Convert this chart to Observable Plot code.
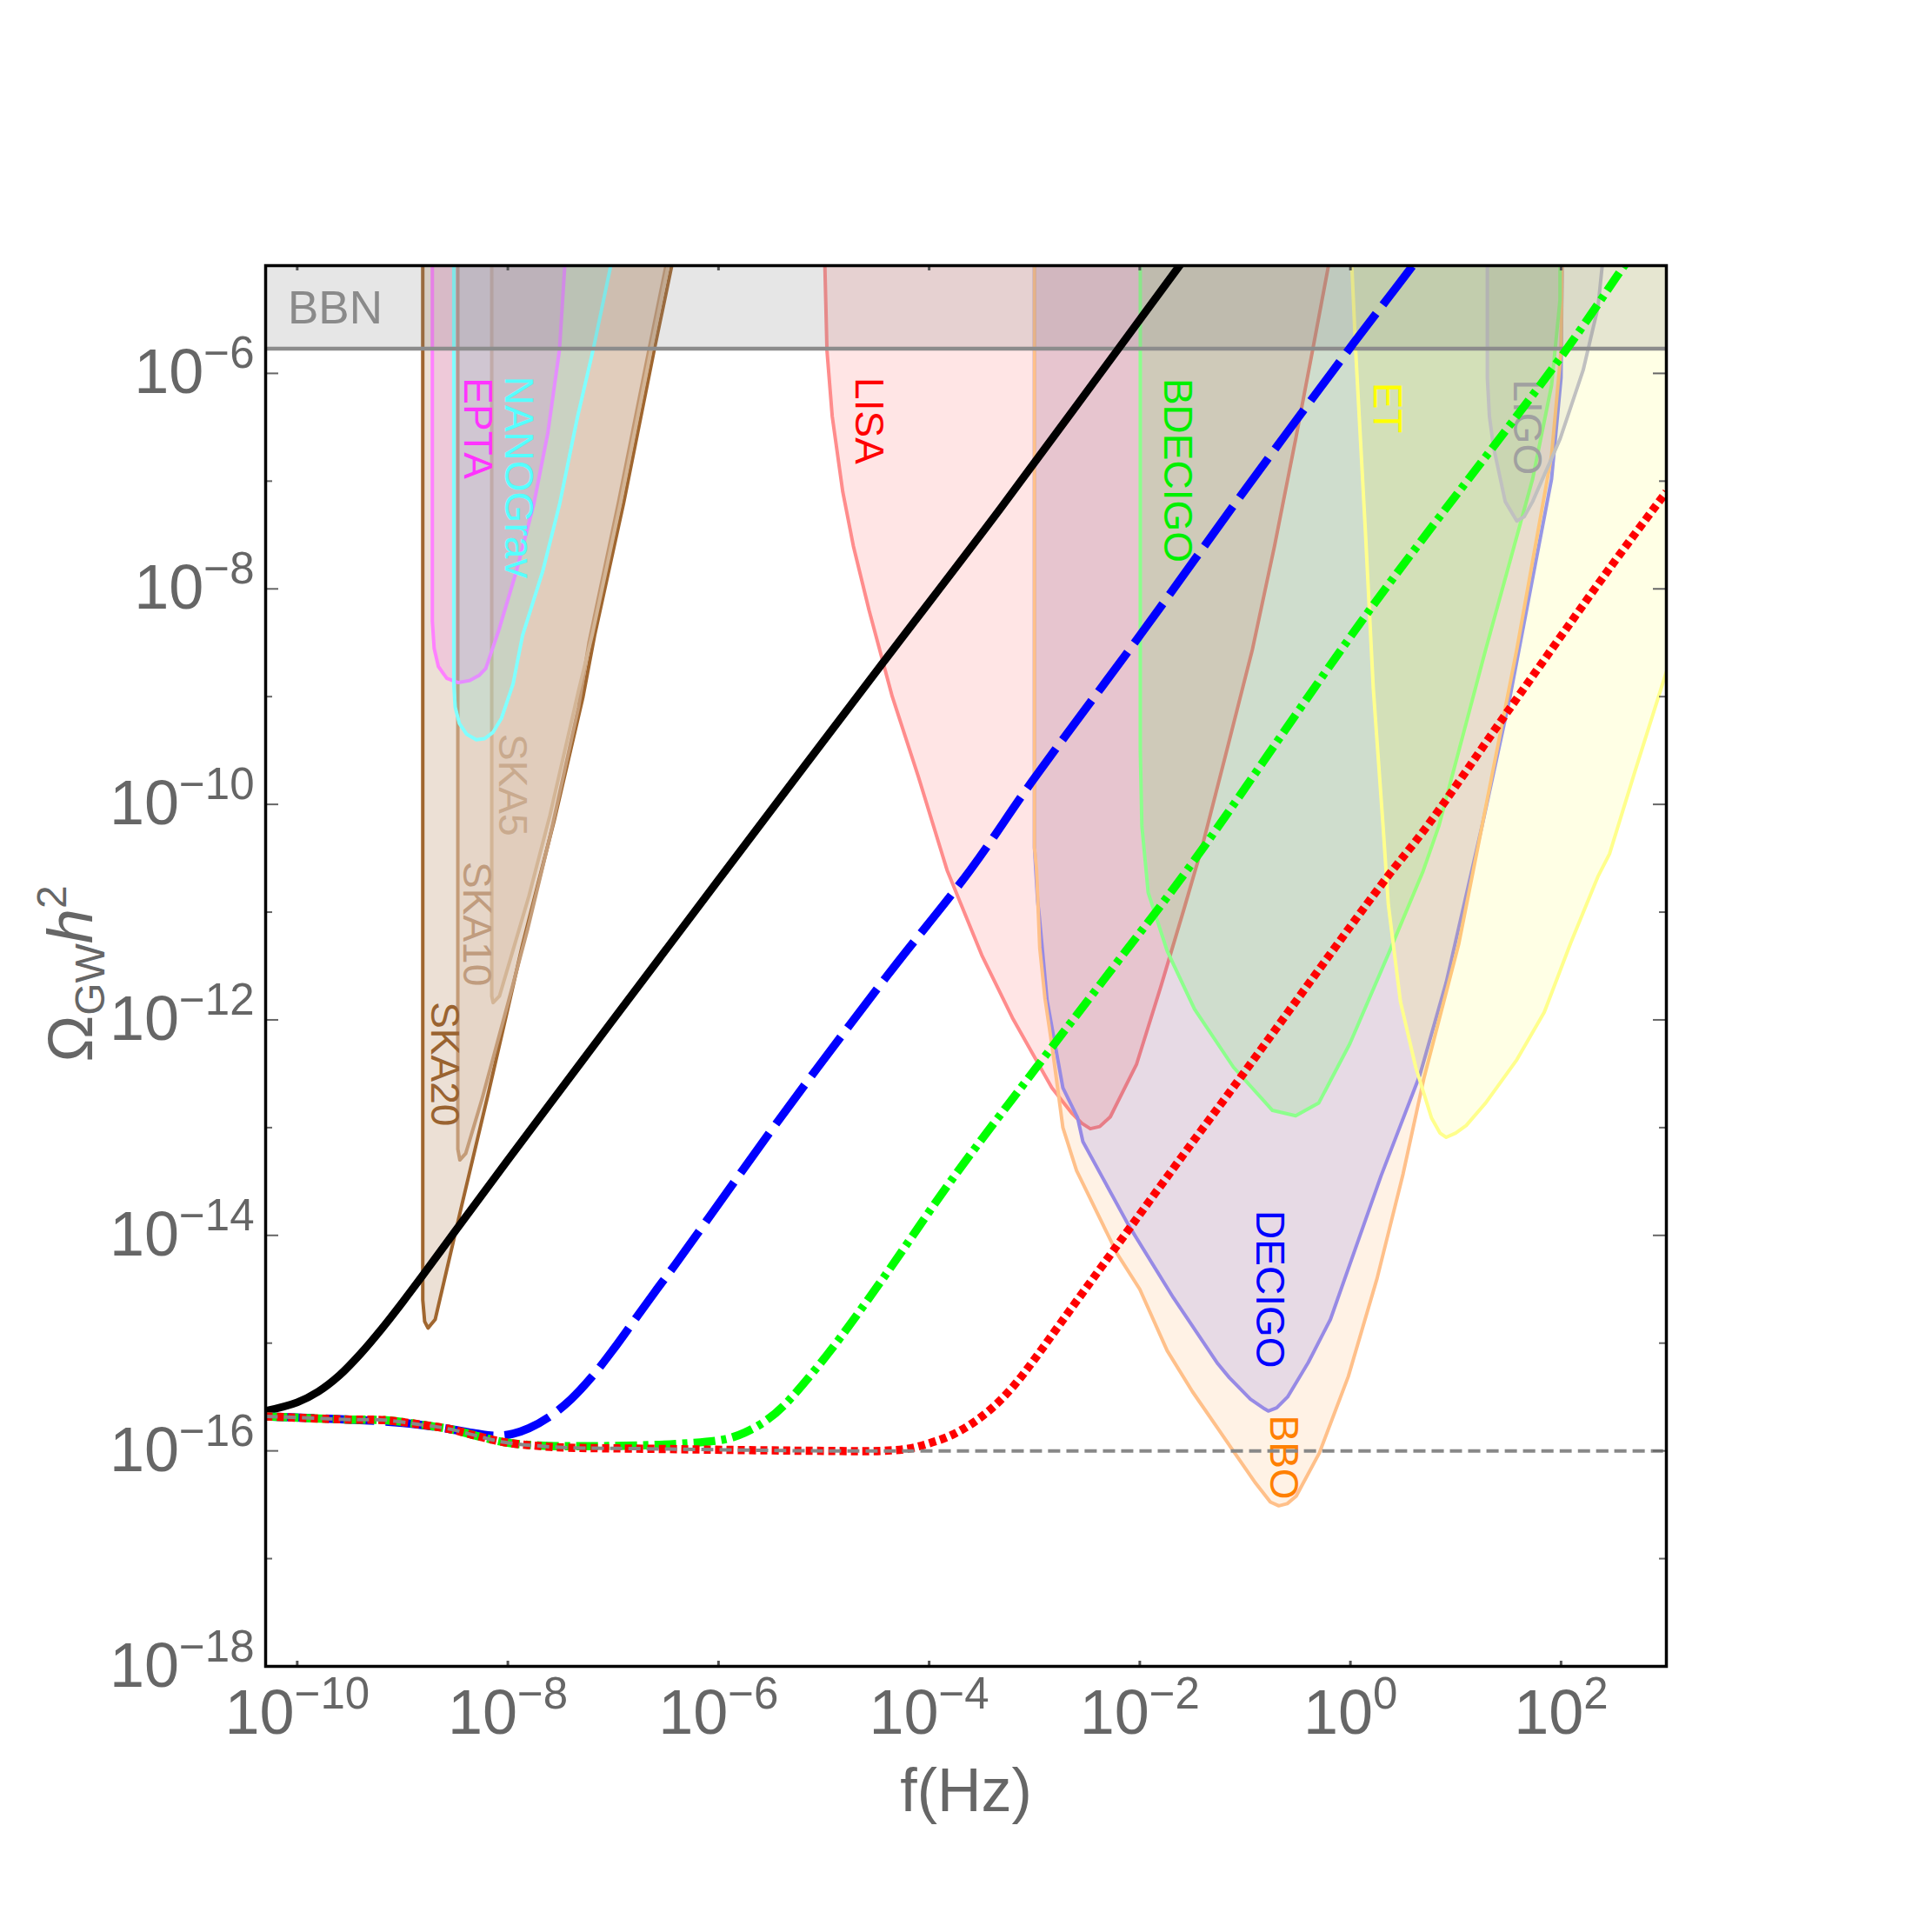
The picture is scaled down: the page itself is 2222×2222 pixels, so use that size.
<!DOCTYPE html>
<html><head><meta charset="utf-8">
<script src="https://cdn.jsdelivr.net/npm/d3@7"></script>
<script src="https://cdn.jsdelivr.net/npm/@observablehq/plot@0.6"></script>
<style>
body{margin:0;background:#fff;}
</style></head><body><div id="chart"></div>
<script>
const xTickExp = [-10, -8, -6, -4, -2, 0, 2];
const yMajorExp = [-18, -16, -14, -12, -10, -8, -6];
const yMinorExp = [-17, -15, -13, -11, -9, -7];
const xDomainExp = [-10.3, 3];
const yDomainExp = [-18, -5];
const bbnExp = -5.77;

// curves
const baselineCurve = [[-10.3,-15.68],[-10,-15.69],[-9.5,-15.71],[-9.17,-15.715],[-8.8,-15.76],[-8.54,-15.8],[-8.3,-15.86],[-8.03,-15.92],[-7.7,-15.955],[-7.43,-15.97],[-6.7,-15.98],[-5.96,-15.99],[-5,-16.0],[-3,-16.0],[0,-16.0],[3,-16.0]];
const blackCurve = [[-10.3,-15.63],[-10.0,-15.55],[-9.8,-15.45],[-9.6,-15.3],[-9.4,-15.1],[-9.2,-14.87],[-9.0,-14.62],[-8.8,-14.36],[-8.5,-13.96],[-8.0,-13.3],[-7.04,-12.05],[-5.93,-10.61],[-4.45,-8.7],[-3.32,-7.25],[-1.63,-5.01],[-1.3,-4.58]];
const blueCurve = [[-10.3,-15.68],[-9.5,-15.71],[-9.0,-15.74],[-8.6,-15.79],[-8.3,-15.84],[-8.1,-15.86],[-7.95,-15.84],[-7.8,-15.79],[-7.6,-15.68],[-7.4,-15.52],[-7.2,-15.31],[-7.0,-15.06],[-6.8,-14.79],[-6.6,-14.52],[-6.41,-14.27],[-5.42,-12.92],[-4.39,-11.58],[-3.61,-10.61],[-3.025,-9.79],[-1.99,-8.42],[-1.0,-7.08],[0.03,-5.72],[0.584,-5.01],[1.0,-4.45]];
const greenCurve = [[-10.3,-15.68],[-9.5,-15.71],[-9.17,-15.715],[-8.8,-15.76],[-8.54,-15.8],[-8.3,-15.86],[-8.03,-15.92],[-7.7,-15.95],[-7.04,-15.955],[-6.3,-15.93],[-5.93,-15.89],[-5.75,-15.83],[-5.55,-15.72],[-5.38,-15.58],[-4.97,-15.11],[-4.46,-14.43],[-3.79,-13.49],[-2.98,-12.44],[-2.25,-11.51],[-1.55,-10.61],[0.18,-8.2],[2.02,-5.82],[2.6,-5.0],[3,-4.45]];
const redCurve = [[-10.3,-15.68],[-9.5,-15.71],[-9.17,-15.715],[-8.8,-15.76],[-8.54,-15.8],[-8.3,-15.86],[-8.03,-15.92],[-7.7,-15.955],[-7.43,-15.97],[-6.7,-15.98],[-5.96,-15.99],[-5,-16.0],[-4.46,-16.0],[-4.2,-15.98],[-4.0,-15.93],[-3.8,-15.86],[-3.6,-15.75],[-3.4,-15.6],[-3.2,-15.4],[-3.0,-15.15],[-2.8,-14.88],[-2.6,-14.61],[-2.25,-14.14],[-1.51,-13.15],[-1.04,-12.53],[0.29,-10.75],[0.73,-10.2],[1.47,-9.17],[2.46,-7.81],[3,-7.1]];

// sensitivity regions
const ska20 = [[-8.808,-4.8],[-8.808,-14.6],[-8.79,-14.8],[-8.758,-14.86],[-8.69,-14.78],[-8.44,-13.73],[-8.19,-12.7],[-7.86,-11.3],[-7.56,-10.15],[-7.286,-9.0],[-7.176,-8.43],[-6.9,-7.2],[-6.61,-5.78],[-6.446,-5.01],[-6.42,-4.8]];
const ska10 = [[-8.475,-4.8],[-8.475,-13.2],[-8.456,-13.3],[-8.4,-13.24],[-8.25,-12.75],[-8.0,-11.85],[-7.81,-11.15],[-7.6,-10.3],[-7.33,-9.1],[-7.23,-8.5],[-6.95,-7.2],[-6.66,-5.78],[-6.5,-5.01],[-6.47,-4.8]];
const ska5 = [[-8.153,-4.8],[-8.153,-11.78],[-8.14,-11.84],[-8.08,-11.78],[-7.95,-11.35],[-7.8,-10.85],[-7.6,-10.1],[-7.33,-8.95],[-7.2,-8.43],[-6.93,-7.2],[-6.64,-5.78],[-6.48,-5.01],[-6.45,-4.8]];
const epta = [[-8.717,-4.8],[-8.717,-8.3],[-8.7,-8.55],[-8.66,-8.72],[-8.58,-8.83],[-8.47,-8.87],[-8.36,-8.85],[-8.27,-8.8],[-8.21,-8.74],[-8.085,-8.38],[-7.92,-7.84],[-7.755,-7.22],[-7.62,-6.55],[-7.51,-5.78],[-7.46,-5.01],[-7.455,-4.8]];
const nanograv = [[-8.513,-4.8],[-8.513,-8.9],[-8.5,-9.1],[-8.46,-9.25],[-8.39,-9.35],[-8.3,-9.4],[-8.22,-9.39],[-8.14,-9.33],[-8.06,-9.2],[-7.95,-8.88],[-7.86,-8.43],[-7.67,-7.84],[-7.51,-7.22],[-7.34,-6.41],[-7.19,-5.78],[-7.025,-5.01],[-7.0,-4.8]];
const lisa = [[-4.99,-4.8],[-4.99,-5.0],[-4.97,-5.79],[-4.92,-6.4],[-4.82,-7.1],[-4.72,-7.6],[-4.57,-8.2],[-4.35,-9.0],[-4.1,-9.75],[-3.83,-10.61],[-3.5,-11.4],[-3.21,-11.98],[-2.835,-12.63],[-2.65,-12.86],[-2.55,-12.96],[-2.47,-13.01],[-2.38,-12.99],[-2.28,-12.9],[-2.03,-12.41],[-1.8,-11.69],[-1.58,-10.97],[-1.41,-10.4],[-1.2,-9.6],[-0.93,-8.56],[-0.72,-7.6],[-0.52,-6.61],[-0.36,-5.79],[-0.21,-5.01],[-0.19,-4.8]];
const bbo = [[-3.0,-4.8],[-3.0,-10.4],[-2.98,-10.61],[-2.95,-11.33],[-2.9,-11.8],[-2.835,-12.23],[-2.73,-13.0],[-2.6,-13.4],[-2.5,-13.6],[-2.215,-14.17],[-2.0,-14.5],[-1.74,-15.07],[-1.5,-15.45],[-1.26,-15.79],[-1.12,-15.99],[-0.9,-16.3],[-0.76,-16.475],[-0.68,-16.51],[-0.6,-16.49],[-0.515,-16.42],[-0.295,-16.02],[-0.02,-15.31],[0.253,-14.4],[0.5,-13.43],[0.696,-12.55],[1.03,-11.29],[1.25,-10.2],[1.58,-8.56],[1.91,-6.76],[2.0,-5.79],[2.01,-5.01],[2.01,-4.8]];
const decigo = [[-3.0,-4.8],[-3.0,-10.4],[-2.97,-10.9],[-2.954,-11.04],[-2.88,-11.82],[-2.73,-12.63],[-2.59,-12.91],[-2.54,-13.13],[-2.11,-13.9],[-1.68,-14.58],[-1.26,-15.19],[-1.15,-15.32],[-0.95,-15.52],[-0.815,-15.61],[-0.78,-15.63],[-0.7,-15.6],[-0.597,-15.5],[-0.4,-15.18],[-0.19,-14.78],[0.29,-13.45],[0.66,-12.51],[0.91,-11.65],[1.25,-10.2],[1.51,-9.03],[1.75,-7.8],[1.91,-6.98],[2.0,-6.04],[2.01,-5.01],[2.01,-4.8]];
const bdecigo = [[-1.995,-4.8],[-1.995,-9.5],[-1.98,-10.2],[-1.92,-10.82],[-1.74,-11.36],[-1.48,-11.9],[-1.11,-12.44],[-0.74,-12.84],[-0.52,-12.89],[-0.3,-12.77],[-0.005,-12.22],[0.36,-11.39],[0.69,-10.62],[0.84,-10.2],[1.285,-8.56],[1.73,-6.98],[1.91,-6.11],[1.99,-5.32],[1.99,-4.8]];
const et = [[0.0,-4.8],[0.014,-5.01],[0.05,-5.79],[0.143,-7.48],[0.217,-8.92],[0.31,-10.2],[0.36,-10.93],[0.475,-11.83],[0.62,-12.44],[0.77,-12.91],[0.85,-13.05],[0.91,-13.09],[1.0,-13.05],[1.1,-12.98],[1.285,-12.77],[1.58,-12.37],[1.84,-11.93],[2.09,-11.29],[2.35,-10.67],[2.46,-10.46],[2.7,-9.7],[3.0,-8.77],[3.3,-8.0],[3.3,-4.8]];
const ligo = [[1.3,-4.8],[1.3,-6.04],[1.32,-6.4],[1.36,-6.69],[1.47,-7.19],[1.58,-7.37],[1.65,-7.33],[1.73,-7.19],[1.99,-6.61],[2.21,-5.97],[2.35,-5.39],[2.39,-5.01],[2.4,-4.8]];

// text labels
const labelNames = ["EPTA", "NANOGrav", "SKA5", "SKA10", "SKA20", "LISA", "BDECIGO", "ET", "LIGO", "DECIGO", "BBO"];
const labelLogF  = [-8.293, -7.905, -7.96, -8.297, -8.607, -4.577, -1.646, 0.344, 1.67, -0.77, -0.64];
const labelLogO  = [-6.51, -6.965, -9.82, -11.11, -12.41, -6.44, -6.9, -6.32, -6.5, -14.5, -16.06];
const bbnLabel = {name: "BBN", lf: -9.64, lo: -5.40};

// ---------- styles (kept apart from the data) ----------
const labelColor = {EPTA:"#ff33ff", NANOGrav:"#55ffff", SKA5:"#c9aa8e", SKA10:"#c09c7e", SKA20:"#9a6330",
  LISA:"#ff0000", BDECIGO:"#00f000", ET:"#ffff00", LIGO:"#a0a0a0", DECIGO:"#0000ff", BBO:"#ff8000"};
const W = 2222, H = 2222, ML = 305, MR = 306, MT = 305, MB = 306;
const PW = W - ML - MR, PH = H - MT - MB;
const FONT = "Liberation Sans, Arial, Helvetica, sans-serif";

const P = a => a.map(([lf, lo]) => ({f: 10 ** lf, o: 10 ** lo}));
const region = (pts, stroke, fill, fillOpacity) =>
  Plot.line(P(pts), {x: "f", y: "o", stroke, strokeWidth: 4, fill, fillOpacity, clip: true, strokeLinejoin: "round"});
const curve = (pts, opts) => Plot.line(P(pts), {x: "f", y: "o", clip: true, curve: "catmull-rom", strokeLinecap: "butt", ...opts});

const labelTable = labelNames.map((n, i) => ({name: n, f: 10 ** labelLogF[i], o: 10 ** labelLogO[i]}));
const fmt = d => `10^${Math.round(Math.log10(d))}`;

const chart = Plot.plot({
  width: W, height: H,
  marginLeft: ML, marginRight: MR, marginTop: MT, marginBottom: MB,
  style: {fontFamily: FONT, color: "#666", background: "#fff"},
  x: {type: "log", domain: xDomainExp.map(e => 10 ** e)},
  y: {type: "log", domain: yDomainExp.map(e => 10 ** e)},
  marks: [
    region(ska20, "#a0662f", "#a0642e", 0.2),
    region(ska10, "#c49c78", "#a0642e", 0.08),
    region(ska5, "#d3b596", "#a0642e", 0.08),
    region(epta, "#ff80ff", "#ff00ff", 0.1),
    region(nanograv, "#80ffff", "#00ffff", 0.1),
    region(lisa, "#ff8c8c", "#ff0000", 0.1),
    region(decigo, "#8c8cff", "#0000ff", 0.1),
    region(bbo, "#ffc08a", "#ff8000", 0.1),
    region(bdecigo, "#8cff8c", "#00ff00", 0.1),
    region(et, "#ffff8c", "#ffff00", 0.1),
    region(ligo, "#c0c0c0", "#808080", 0.1),
    ...labelTable.map(d => Plot.text([d], {x: "f", y: "o", text: "name", rotate: 90, fontSize: 46, fill: labelColor[d.name]})),
    Plot.rect([bbnExp], {x1: 10 ** xDomainExp[0], x2: 10 ** xDomainExp[1], y1: d => 10 ** d, y2: 10 ** yDomainExp[1], fill: "#808080", fillOpacity: 0.2}),
    Plot.ruleY([bbnExp], {y: d => 10 ** d, stroke: "#8c8c8c", strokeWidth: 4.5}),
    Plot.text([bbnLabel], {x: d => 10 ** d.lf, y: d => 10 ** d.lo, text: "name", fontSize: 53, fill: "#8a8a8a"}),
    curve(blackCurve, {stroke: "#000", strokeWidth: 9}),
    curve(blueCurve, {stroke: "#0000ff", strokeWidth: 9.5, strokeDasharray: "56,13"}),
    curve(greenCurve, {stroke: "#00ff00", strokeWidth: 9.5, strokeDasharray: "25,7,6,7"}),
    curve(redCurve, {stroke: "#ff0000", strokeWidth: 9.5, strokeDasharray: "8,5"}),
    curve(baselineCurve, {stroke: "#888", strokeWidth: 4, strokeDasharray: "14,7"}),
    Plot.tickX(xTickExp, {x: d => 10 ** d, insetTop: PH - 6, stroke: "#555", strokeWidth: 3}),
    Plot.tickX(xTickExp, {x: d => 10 ** d, insetBottom: PH - 6, stroke: "#555", strokeWidth: 3}),
    Plot.tickY(yMajorExp, {y: d => 10 ** d, insetRight: PW - 15, stroke: "#666", strokeWidth: 2}),
    Plot.tickY(yMinorExp, {y: d => 10 ** d, insetRight: PW - 8, stroke: "#666", strokeWidth: 2}),
    Plot.tickY(yMajorExp, {y: d => 10 ** d, insetLeft: PW - 15, stroke: "#666", strokeWidth: 2}),
    Plot.tickY(yMinorExp, {y: d => 10 ** d, insetLeft: PW - 8, stroke: "#666", strokeWidth: 2}),
    Plot.axisX({ticks: xTickExp.map(e => 10 ** e), tickFormat: fmt, tickSize: 0, tickPadding: 26, fontSize: 72, label: null, anchor: "bottom"}),
    Plot.axisY({ticks: yMajorExp.map(e => 10 ** e), tickFormat: fmt, tickSize: 0, tickPadding: 13, fontSize: 72, label: null, anchor: "left"}),
    Plot.text(["f(Hz)"], {text: d => d, frameAnchor: "bottom", dy: 166, fontSize: 70, fill: "#666"}),
    Plot.frame({stroke: "#000", strokeWidth: 3.5})
  ]
});

// superscript exponents on tick labels
d3.select(chart).selectAll('g[aria-label="x-axis tick label"] text, g[aria-label="y-axis tick label"] text').each(function () {
  const t = d3.select(this);
  const m = t.text().match(/^10\^(-?\d+)$/);
  if (!m) return;
  t.text("10");
  t.append("tspan").attr("dy", -29).attr("font-size", 51).text(m[1].replace("-", "\u2212"));
});

// y-axis title  Ω_GW h²
const yl = d3.select(chart).append("text")
  .attr("transform", "translate(106,1120) rotate(-90)")
  .attr("text-anchor", "middle").attr("font-size", 72).attr("fill", "#666").attr("font-family", FONT);
yl.append("tspan").text("\u03A9");
yl.append("tspan").attr("font-size", 48).attr("dy", 14).text("GW");
yl.append("tspan").attr("font-style", "italic").attr("dy", -14).text("h");
yl.append("tspan").attr("font-size", 48).attr("dy", -30).text("2");

document.getElementById("chart").appendChild(chart);
</script></body></html>
